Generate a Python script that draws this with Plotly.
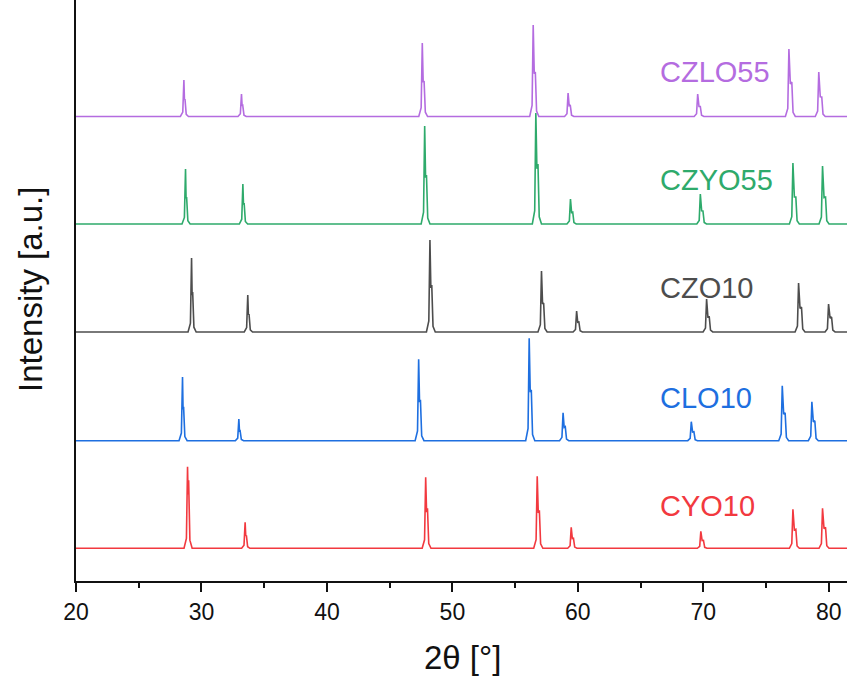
import plotly.graph_objects as go

# Sample names (bottom to top) and colours
samples = ["CYO10", "CLO10", "CZO10", "CZYO55", "CZLO55"]
colors = ["#F2393F", "#1E6FE0", "#4D4D4D", "#2EAA6B", "#B46CE0"]
offsets = [32.7, 140.3, 249.0, 357.0, 464.5]

# Peak positions (2theta, deg), Ka1 heights and Ka2 shoulder heights (a.u.)
cyo10_pos = [28.89, 33.48, 47.87, 56.76, 59.47, 69.80, 77.14, 79.50]
cyo10_h = [81.6, 26.0, 71.0, 72.0, 21.0, 17.0, 39.0, 40.0]
cyo10_s = [68.0, 13.0, 40.0, 38.0, 10.0, 8.0, 19.0, 21.0]

clo10_pos = [28.49, 32.98, 47.31, 56.12, 58.82, 69.04, 76.29, 78.65]
clo10_h = [63.7, 21.7, 81.4, 102.4, 28.0, 19.0, 55.0, 39.0]
clo10_s = [34.0, 10.0, 41.0, 51.0, 14.0, 9.0, 28.0, 20.0]

czo10_pos = [29.21, 33.69, 48.21, 57.10, 59.90, 70.26, 77.59, 79.98]
czo10_h = [74.0, 37.0, 92.0, 61.0, 21.0, 33.0, 49.0, 28.0]
czo10_s = [40.0, 18.0, 47.0, 29.0, 10.0, 15.0, 25.0, 15.0]

czyo55_pos = [28.73, 33.30, 47.79, 56.65, 59.41, 69.76, 77.14, 79.50]
czyo55_h = [55.0, 40.0, 98.0, 111.0, 25.0, 30.0, 61.0, 58.0]
czyo55_s = [27.0, 21.0, 49.0, 60.0, 12.0, 13.0, 27.0, 27.0]

czlo55_pos = [28.60, 33.19, 47.60, 56.44, 59.22, 69.55, 76.82, 79.20]
czlo55_h = [36.5, 22.5, 73.5, 91.5, 23.5, 22.5, 67.5, 44.5]
czlo55_s = [17.5, 11.0, 35.5, 44.5, 11.0, 10.0, 34.5, 19.5]

x_start, x_end = 20.0, 81.45

peaks = [
    (cyo10_pos, cyo10_h, cyo10_s),
    (clo10_pos, clo10_h, clo10_s),
    (czo10_pos, czo10_h, czo10_s),
    (czyo55_pos, czyo55_h, czyo55_s),
    (czlo55_pos, czlo55_h, czlo55_s),
]


def profile(pos, h, s, base):
    xs = [x_start]
    ys = [base]
    for p, a, b in zip(pos, h, s):
        d = 0.003 * p
        xs += [p - 0.28, p - 0.09, p, p + d * 0.5, p + d, p + d + 0.1, p + d + 0.28]
        ys += [base, base + 0.12 * a, base + a, base + 0.55 * b + 0.2 * a,
               base + b, base + 0.12 * b, base]
    xs.append(x_end)
    ys.append(base)
    return xs, ys


fig = go.Figure()
for name, col, off, (pos, h, s) in zip(samples, colors, offsets, peaks):
    xs, ys = profile(pos, h, s, off)
    fig.add_trace(go.Scatter(x=xs, y=ys, mode="lines", name=name,
                             line=dict(color=col, width=1.6), showlegend=False))

label_y = [75.0, 183.0, 293.0, 401.5, 509.0]
for name, col, ly in zip(samples, colors, label_y):
    fig.add_annotation(x=66.4, y=ly, xref="x", yref="y", text=name,
                       showarrow=False, xanchor="left", yanchor="middle",
                       font=dict(family="Liberation Sans, Arial", size=29, color=col))

fig.add_annotation(x=(30 - 76) / 771, y=(581 - 290) / 581, xref="paper", yref="paper",
                   text="Intensity [a.u.]", textangle=-90, showarrow=False,
                   xanchor="center", yanchor="middle",
                   font=dict(family="Liberation Sans, Arial", size=33, color="#111"))
fig.add_annotation(x=(462 - 76) / 771, y=(581 - 657) / 581, xref="paper", yref="paper",
                   text="2θ [°]", showarrow=False,
                   xanchor="center", yanchor="middle",
                   font=dict(family="Liberation Sans, Arial", size=33, color="#111"))

fig.update_xaxes(range=[x_start, x_end], tickmode="linear", tick0=20, dtick=10,
                 ticks="outside", ticklen=9, tickwidth=1.5, tickcolor="#111",
                 minor=dict(ticks="outside", ticklen=5, dtick=5, tick0=20,
                            tickwidth=1.5, tickcolor="#111"),
                 showline=True, linecolor="#111", linewidth=1.8,
                 showgrid=False, zeroline=False,
                 tickfont=dict(family="Liberation Sans, Arial", size=23, color="#111"))
fig.update_yaxes(range=[0, 581], showticklabels=False, ticks="",
                 showline=True, linecolor="#111", linewidth=1.8,
                 showgrid=False, zeroline=False)

fig.update_layout(width=847, height=677, plot_bgcolor="white", paper_bgcolor="white",
                  margin=dict(l=76, r=0, t=0, b=96))

fig.write_html(
    "out.html",
    config={"displayModeBar": False},
    post_script="document.body.style.margin='0';"
                "document.documentElement.style.overflow='hidden';",
)
